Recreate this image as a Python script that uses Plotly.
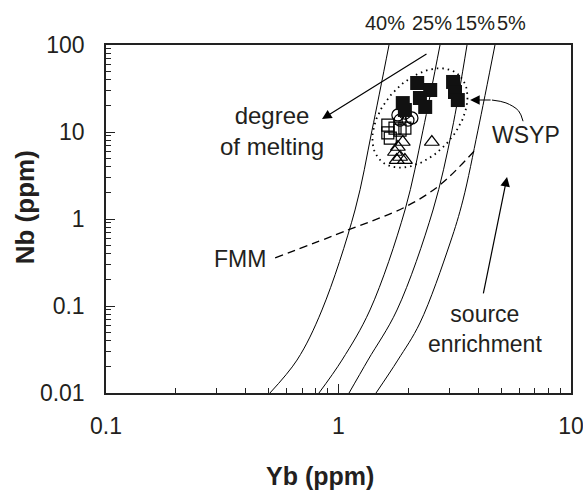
import numpy as np
import plotly.graph_objects as go

# ---------------- data ----------------
# melting curves (Yb, Nb)
melt_labels = ["40%", "25%", "15%", "5%"]
melt40_yb = [1.649, 1.394, 1.178, 0.849, 0.663, 0.507]
melt40_nb = [100, 10.5, 1.27, 0.090, 0.0239, 0.01]
melt25_yb = [2.733, 2.309, 1.932, 1.366, 1.035, 0.824]
melt25_nb = [100, 10.5, 1.27, 0.090, 0.0239, 0.01]
melt15_yb = [3.57, 3.077, 2.55, 1.785, 1.339, 1.11]
melt15_nb = [100, 10.5, 1.27, 0.090, 0.0239, 0.01]
melt5_yb = [4.71, 3.98, 3.43, 3.02, 2.24, 1.80, 1.45]
melt5_nb = [100, 10.5, 1.65, 0.53, 0.0638, 0.0239, 0.01]

# FMM dashed curve
fmm_yb = [0.534, 1.10, 1.93, 2.73, 3.87]
fmm_nb = [0.357, 0.748, 1.37, 2.46, 6.21]

# samples
wsyp_yb = [2.18, 2.48, 3.11, 3.17, 3.26, 1.89, 2.24, 2.36, 1.93]
wsyp_nb = [36.6, 30.4, 37.6, 28.8, 23.3, 21.5, 24.6, 19.4, 17.9]
circ_yb = [1.80, 1.93, 2.07, 1.84, 1.99]
circ_nb = [15.7, 16.5, 14.5, 13.7, 13.7]
osq_yb = [1.63, 1.75, 1.84, 1.93, 1.63, 1.67]
osq_nb = [12.0, 11.1, 10.5, 11.1, 9.75, 8.5]
tri_yb = [1.89, 1.80, 1.75, 1.84, 1.78, 1.93, 2.52]
tri_nb = [7.67, 6.72, 5.89, 5.16, 4.76, 4.76, 7.67]

# axis ticks
x_tickvals = [0.1, 1, 10]
x_ticktext = ["0.1", "1", "10"]
y_tickvals = [0.01, 0.1, 1, 10, 100]
y_ticktext = ["0.01", "0.1", "1", "10", "100"]
minor_x = [0.2, 0.3, 0.4, 0.5, 0.6, 0.7, 0.8, 0.9, 2, 3, 4, 5, 6, 7, 8, 9]
minor_y = [m * d for d in [0.01, 0.1, 1, 10] for m in range(2, 10)]

FONT = "Liberation Sans, Arial, sans-serif"
TXT = "#231f20"

fig = go.Figure()

# melting curves
for xs, ys in [(melt40_yb, melt40_nb), (melt25_yb, melt25_nb),
               (melt15_yb, melt15_nb), (melt5_yb, melt5_nb)]:
    fig.add_trace(go.Scatter(x=xs, y=ys, mode="lines",
                             line=dict(color="black", width=1, shape="spline", smoothing=1.0),
                             hoverinfo="skip", showlegend=False))

# FMM
fig.add_trace(go.Scatter(x=fmm_yb, y=fmm_nb, mode="lines",
                         line=dict(color="black", width=1.3, dash="8px,5px", shape="spline"),
                         showlegend=False))

# dotted ellipse around the samples (guide shape, pixel-space geometry)
cx_l, cy_l = np.log10(2.24), np.log10(14.5)
px_per_dec_x, px_per_dec_y = 232.5, 87.0
a_px, b_px, th = 58.0, 37.0, np.deg2rad(48)
t = np.linspace(0, 2 * np.pi, 120)
dx = a_px * np.cos(t) * np.cos(th) - b_px * np.sin(t) * np.sin(th)
dy = a_px * np.cos(t) * np.sin(th) + b_px * np.sin(t) * np.cos(th)
fig.add_trace(go.Scatter(x=10 ** (cx_l + dx / px_per_dec_x), y=10 ** (cy_l + dy / px_per_dec_y),
                         mode="lines", line=dict(color="black", width=1.8, dash="1.5px,4px"),
                         showlegend=False))

# WSYP curved arrow shaft
arc_yb = [6.22, 5.95, 5.25, 4.57]
arc_nb = [13.3, 17.5, 21.6, 23.3]
fig.add_trace(go.Scatter(x=arc_yb, y=arc_nb, mode="lines",
                         line=dict(color="black", width=1, shape="spline"), showlegend=False))

# samples
fig.add_trace(go.Scatter(x=tri_yb, y=tri_nb, mode="markers",
                         marker=dict(symbol="triangle-up-open", size=13, color="black",
                                     line=dict(width=1.2)), showlegend=False))
fig.add_trace(go.Scatter(x=osq_yb, y=osq_nb, mode="markers",
                         marker=dict(symbol="square-open", size=12, color="black",
                                     line=dict(width=1.2)), showlegend=False))
fig.add_trace(go.Scatter(x=circ_yb, y=circ_nb, mode="markers",
                         marker=dict(symbol="circle-open", size=12, color="black",
                                     line=dict(width=1.2)), showlegend=False))
fig.add_trace(go.Scatter(x=wsyp_yb, y=wsyp_nb, mode="markers",
                         marker=dict(symbol="square", size=14, color="#111",
                                     line=dict(width=0)), showlegend=False))

ann = []
# percentage labels above plot
for lab, xv in zip(melt_labels, [1.585, 2.52, 3.86, 5.57]):
    ann.append(dict(x=np.log10(xv), y=1.063, xref="x", yref="paper", text=lab,
                    xanchor="center", yanchor="middle",
                    showarrow=False, font=dict(size=20, color=TXT, family=FONT)))

ann += [
    dict(x=-0.286, y=1.011, xref="x", yref="y", text="degree<br>of melting", showarrow=False,
         xanchor="center", yanchor="middle", font=dict(size=24, color=TXT, family=FONT)),
    dict(x=-0.071, y=1.149, xref="x", yref="y", ax=106, ay=-66, text="", showarrow=True,
         arrowhead=2, arrowsize=1.6, arrowwidth=1.2, arrowcolor="black"),
    dict(x=0.806, y=0.966, xref="x", yref="y", text="WSYP", showarrow=False,
         xanchor="center", yanchor="middle", font=dict(size=23, color=TXT, family=FONT)),
    dict(x=0.566, y=1.368, xref="x", yref="y", ax=22, ay=0, text="", showarrow=True,
         arrowhead=2, arrowsize=1.6, arrowwidth=1.2, arrowcolor="black"),
    dict(x=-0.424, y=-0.460, xref="x", yref="y", text="FMM", showarrow=False,
         xanchor="center", yanchor="middle", font=dict(size=23, color=TXT, family=FONT)),
    dict(x=0.630, y=-1.264, xref="x", yref="y", text="source<br>enrichment", showarrow=False,
         xanchor="center", yanchor="middle", font=dict(size=23, color=TXT, family=FONT)),
    dict(x=0.725, y=0.483, xref="x", yref="y", ax=-24, ay=118, text="", showarrow=True,
         arrowhead=2, arrowsize=1.6, arrowwidth=1.2, arrowcolor="black"),
    dict(x=0.46, y=-0.238, xref="paper", yref="paper", text="<b>Yb (ppm)</b>", showarrow=False,
         xanchor="center", yanchor="middle", font=dict(size=25, color=TXT, family=FONT)),
    dict(x=-0.174, y=0.534, xref="paper", yref="paper", text="<b>Nb (ppm)</b>", showarrow=False,
         xanchor="center", yanchor="middle",
         textangle=-90, font=dict(size=26, color=TXT, family=FONT)),
]

axis_common = dict(type="log", showgrid=False, zeroline=False, showline=True,
                   linecolor="#222", linewidth=1.5, mirror=True, ticks="inside",
                   ticklen=9, tickwidth=1.2, tickcolor="#222", automargin=False,
                   ticklabeloverflow="allow",
                   tickfont=dict(size=23, color=TXT, family=FONT))

fig.update_layout(
    width=583, height=490,
    margin=dict(l=106, r=12, t=45, b=97, autoexpand=False),
    paper_bgcolor="white", plot_bgcolor="white",
    showlegend=False,
    xaxis=dict(range=[-1, 1], tickmode="array", tickvals=x_tickvals, ticktext=x_ticktext,
               ticklabelstandoff=12,
               minor=dict(tickmode="array", tickvals=minor_x, ticks="inside", ticklen=5,
                          tickwidth=1, tickcolor="#222"),
               **axis_common),
    yaxis=dict(range=[-2, 2], tickmode="array", tickvals=y_tickvals, ticktext=y_ticktext,
               ticklabelstandoff=15,
               minor=dict(tickmode="array", tickvals=minor_y, ticks="inside", ticklen=5,
                          tickwidth=1, tickcolor="#222"),
               **axis_common),
    annotations=ann,
)

fig.write_html("out.html")
